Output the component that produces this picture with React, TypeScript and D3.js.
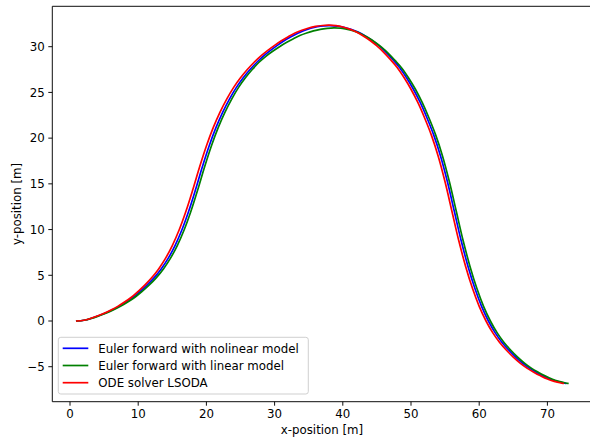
import React from "react";
import * as d3 from "d3";

const xTicks = [0, 10, 20, 30, 40, 50, 60, 70];
const yTicks = [-5, 0, 5, 10, 15, 20, 25, 30];

// ODE solver LSODA (red)
const redX = [1, 2, 3, 4, 5, 6, 7, 8, 9, 10, 11, 12, 13, 14, 15, 16, 17, 18, 19, 20, 21, 22, 23, 24, 25, 26, 27, 28, 29, 30, 31, 32, 33, 34, 35, 36, 37, 38, 39, 40, 41, 42, 43, 44, 45, 46, 47, 48, 49, 50, 51, 52, 53, 54, 55, 56, 57, 58, 59, 60, 61, 62, 63, 64, 65, 66, 67, 68, 69, 70, 71, 72, 72.3];
const redY = [0, 0.08, 0.28, 0.55, 0.85, 1.2, 1.6, 2.07, 2.6, 3.25, 3.95, 4.75, 5.7, 6.85, 8.25, 9.95, 12.0, 14.35, 16.85, 19.15, 21.15, 22.85, 24.3, 25.55, 26.6, 27.5, 28.3, 29.0, 29.6, 30.15, 30.65, 31.1, 31.5, 31.8, 32.05, 32.22, 32.32, 32.35, 32.3, 32.15, 31.92, 31.6, 31.18, 30.68, 30.08, 29.38, 28.58, 27.7, 26.6, 25.35, 23.9, 22.2, 20.3, 18.0, 15.2, 12.0, 8.8, 6.0, 3.6, 1.6, 0.0, -1.3, -2.35, -3.2, -3.95, -4.6, -5.15, -5.6, -6.0, -6.35, -6.6, -6.78, -6.82];

// Euler forward with nolinear model (blue)
const blueX = [1, 2.03, 3.06, 4.1, 5.13, 6.16, 7.2, 8.23, 9.26, 10.3, 11.32, 12.35, 13.37, 14.39, 15.4, 16.4, 17.4, 18.4, 19.4, 20.4, 21.4, 22.4, 23.4, 24.4, 25.4, 26.4, 27.4, 28.4, 29.4, 30.4, 31.4, 32.4, 33.4, 34.35, 35.3, 36.25, 37.2, 38.15, 39.15, 40.15, 41.2, 42.25, 43.3, 44.3, 45.35, 46.35, 47.35, 48.35, 49.35, 50.35, 51.35, 52.35, 53.35, 54.35, 55.35, 56.35, 57.35, 58.35, 59.35, 60.35, 61.35, 62.35, 63.35, 64.35, 65.35, 66.35, 67.35, 68.35, 69.35, 70.35, 71.38, 72.4, 72.7];
const blueY = [0, 0.08, 0.28, 0.55, 0.85, 1.2, 1.6, 2.07, 2.6, 3.25, 3.95, 4.75, 5.7, 6.85, 8.25, 9.95, 12.0, 14.35, 16.85, 19.15, 21.15, 22.85, 24.3, 25.55, 26.6, 27.5, 28.3, 29.0, 29.6, 30.15, 30.65, 31.08, 31.47, 31.77, 32.02, 32.19, 32.28, 32.3, 32.25, 32.12, 31.9, 31.6, 31.18, 30.68, 30.08, 29.38, 28.58, 27.7, 26.6, 25.35, 23.9, 22.2, 20.3, 18.0, 15.2, 12.0, 8.8, 6.0, 3.6, 1.6, 0.0, -1.3, -2.35, -3.2, -3.95, -4.6, -5.15, -5.6, -6.0, -6.35, -6.6, -6.78, -6.82];

// Euler forward with linear model (green)
const greenX = [1, 2.06, 3.13, 4.2, 5.26, 6.33, 7.4, 8.46, 9.52, 10.58, 11.63, 12.67, 13.7, 14.72, 15.73, 16.73, 17.73, 18.73, 19.73, 20.73, 21.73, 22.73, 23.73, 24.72, 25.72, 26.72, 27.72, 28.72, 29.72, 30.72, 31.72, 32.7, 33.7, 34.7, 35.7, 36.7, 37.7, 38.7, 39.7, 40.7, 41.7, 42.7, 43.68, 44.68, 45.67, 46.67, 47.66, 48.66, 49.65, 50.65, 51.64, 52.64, 53.64, 54.64, 55.64, 56.64, 57.64, 58.64, 59.64, 60.64, 61.64, 62.64, 63.64, 64.64, 65.64, 66.64, 67.64, 68.65, 69.65, 70.66, 71.67, 72.68, 73.0];
const greenY = [0, 0.08, 0.28, 0.55, 0.85, 1.2, 1.6, 2.07, 2.6, 3.25, 3.95, 4.75, 5.7, 6.85, 8.25, 9.95, 12.0, 14.35, 16.85, 19.15, 21.15, 22.85, 24.3, 25.55, 26.6, 27.5, 28.3, 28.95, 29.5, 30.0, 30.45, 30.85, 31.22, 31.5, 31.73, 31.9, 32.0, 32.05, 32.02, 31.9, 31.7, 31.4, 31.0, 30.52, 29.95, 29.28, 28.5, 27.65, 26.58, 25.35, 23.9, 22.2, 20.3, 18.0, 15.2, 12.0, 8.8, 6.0, 3.6, 1.6, 0.0, -1.3, -2.35, -3.2, -3.95, -4.6, -5.15, -5.6, -6.0, -6.35, -6.6, -6.78, -6.82];

const seriesNames = [
  "Euler forward with nolinear model",
  "Euler forward with linear model",
  "ODE solver LSODA",
];
const seriesColors = ["#0000ff", "#008000", "#ff0000"];

const W = 590;
const H = 441;
const box = { left: 52.3, top: 6.3, right: 594, bottom: 401.7 };
const FONT = "DejaVu Sans, sans-serif";
const FS = 11.8;

export default function App() {
  const x = d3.scaleLinear().domain([0, 70]).range([70, 547.4]);
  const y = d3.scaleLinear().domain([0, 30]).range([321, 46.7]);

  const series = [
    { xs: blueX, ys: blueY },
    { xs: greenX, ys: greenY },
    { xs: redX, ys: redY },
  ];
  const line = d3
    .line<[number, number]>()
    .x((d) => x(d[0]))
    .y((d) => y(d[1]))
    .curve(d3.curveCatmullRom.alpha(0.5));

  const legX = 58.3;
  const legY = 337.3;
  const legW = 250;
  const legH = 56.7;
  const rowY = [348.3, 365.5, 382.7];

  return (
    <svg
      width={W}
      height={H}
      style={{ position: "absolute", left: 0, top: 0, background: "#fff" }}
      fontFamily={FONT}
    >
      <rect x={0} y={0} width={W} height={H} fill="#fff" />
      <defs>
        <clipPath id="plotclip">
          <rect x={box.left} y={box.top} width={box.right - box.left} height={box.bottom - box.top} />
        </clipPath>
      </defs>
      <g clipPath="url(#plotclip)">
        {series.map((s, i) => (
          <path
            key={i}
            d={line(s.xs.map((v, j) => [v, s.ys[j]] as [number, number])) || ""}
            fill="none"
            stroke={seriesColors[i]}
            strokeWidth={1.7}
            strokeLinejoin="round"
            strokeLinecap="square"
          />
        ))}
      </g>
      <g stroke="#000" strokeWidth={0.95} fill="none">
        <line x1={box.left} x2={box.left} y1={box.top} y2={box.bottom} />
        <line x1={box.left} x2={box.right} y1={box.bottom} y2={box.bottom} />
        <line x1={box.left} x2={box.right} y1={box.top} y2={box.top} />
        <line x1={box.right} x2={box.right} y1={box.top} y2={box.bottom} />
      </g>
      {xTicks.map((t) => (
        <g key={"x" + t}>
          <line x1={x(t)} x2={x(t)} y1={box.bottom} y2={box.bottom + 4} stroke="#000" strokeWidth={0.95} />
          <text x={x(t)} y={418} textAnchor="middle" fontSize={FS} fill="#000">
            {t}
          </text>
        </g>
      ))}
      {yTicks.map((t) => (
        <g key={"y" + t}>
          <line x1={box.left - 4} x2={box.left} y1={y(t)} y2={y(t)} stroke="#000" strokeWidth={0.95} />
          <text x={box.left - 7.5} y={y(t)} dy="0.36em" textAnchor="end" fontSize={FS} fill="#000">
            {t < 0 ? "\u2212" + Math.abs(t) : t}
          </text>
        </g>
      ))}
      <text x={322} y={434} textAnchor="middle" fontSize={FS} fill="#000">
        x-position [m]
      </text>
      <text
        transform={`translate(20.5, ${(box.top + box.bottom) / 2}) rotate(-90)`}
        textAnchor="middle"
        fontSize={FS}
        fill="#000"
      >
        y-position [m]
      </text>
      <rect
        x={legX}
        y={legY}
        width={legW}
        height={legH}
        rx={2.5}
        fill="#fff"
        fillOpacity={0.8}
        stroke="#cccccc"
        strokeWidth={0.95}
      />
      {seriesNames.map((name, i) => (
        <g key={name}>
          <line x1={62.7} x2={88.3} y1={rowY[i]} y2={rowY[i]} stroke={seriesColors[i]} strokeWidth={1.7} />
          <text x={98.3} y={rowY[i]} dy="0.36em" fontSize={FS} fill="#000">
            {name}
          </text>
        </g>
      ))}
    </svg>
  );
}
